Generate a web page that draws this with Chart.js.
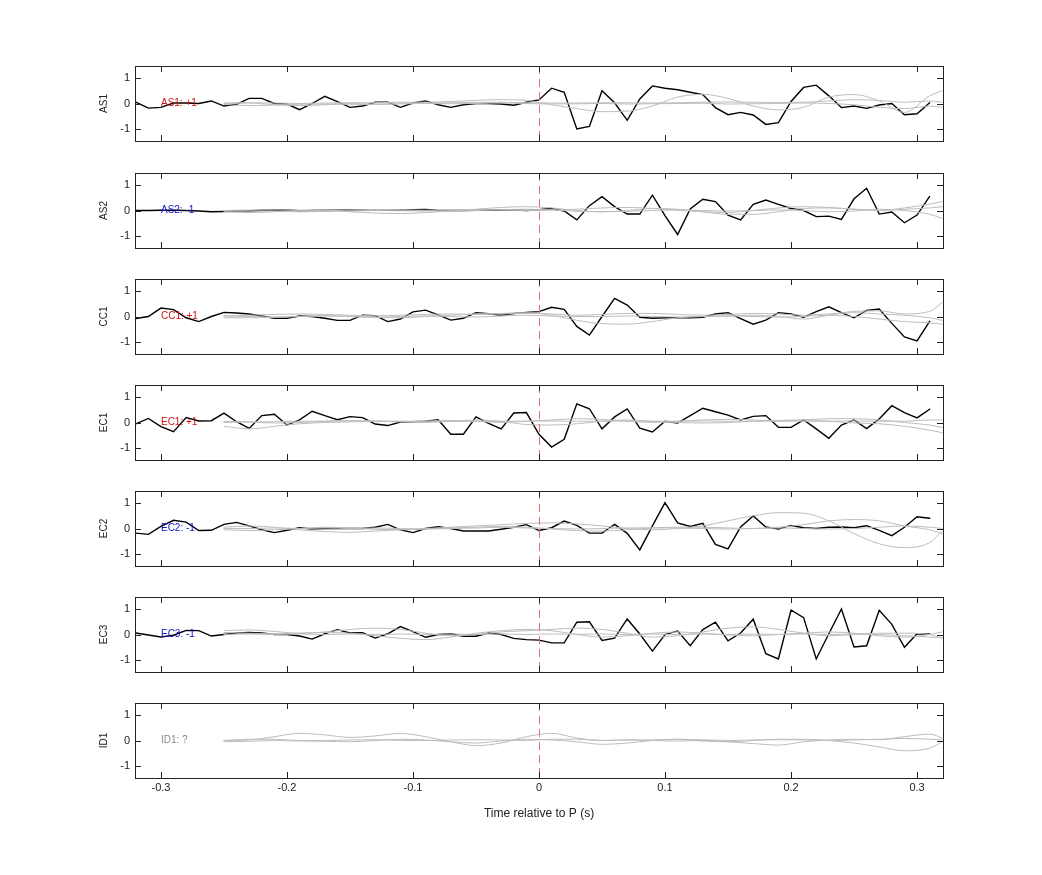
<!DOCTYPE html>
<html><head><meta charset="utf-8">
<script src="https://cdn.jsdelivr.net/npm/chart.js@4.4.1/dist/chart.umd.min.js"></script>
<style>body{margin:0;background:#fff;width:1042px;height:875px;position:relative;overflow:hidden}canvas{position:absolute}</style>
</head><body>
<script>
const stations = ["AS1","AS2","CC1","EC1","EC2","EC3","ID1"];
const polarity = ["AS1: +1","AS2: -1","CC1: +1","EC1: +1","EC2: -1","EC3: -1","ID1: ?"];
const polarityColors = ["#d01010","#1010d0","#d01010","#d01010","#1010d0","#1010d0","#888888"];
const xTickLabels = ["-0.3","-0.2","-0.1","0","0.1","0.2","0.3"];
const xTickValues = [-0.3,-0.2,-0.1,0,0.1,0.2,0.3];
const yTickValues = [-1,0,1];
// black traces: time -0.32 .. 0.31 step 0.01
const blackStart = -0.32, blackStep = 0.01;
const AS1 = [0.05,-0.18,-0.15,0.02,0.02,0,0.1,-0.1,-0.03,0.2,0.2,0,-0.02,-0.24,0,0.28,0.07,-0.15,-0.1,0.05,0.05,-0.15,0.02,0.1,-0.05,-0.15,-0.05,0,0,-0.02,-0.07,0.05,0.14,
 0.6,0.44,-1.0,-0.9,0.5,0.03,-0.66,0.18,0.69,0.6,0.54,0.44,0.35,-0.16,-0.44,-0.35,-0.45,-0.82,-0.75,0.08,0.63,0.72,0.3,-0.16,-0.1,-0.19,-0.06,0,-0.44,-0.4,0.03];
const AS2 = [0,0,0.01,0.01,0,-0.02,-0.05,-0.04,-0.02,-0.02,0.01,0.03,0.02,-0.01,0,0.01,0.01,0.02,0.02,0.01,0.01,0.02,0.03,0.04,0,0,0,0.01,0.01,0.02,0.02,0,0.03,
 0.08,-0.02,-0.37,0.19,0.54,0.15,-0.14,-0.14,0.6,-0.2,-0.94,0.06,0.44,0.35,-0.18,-0.37,0.24,0.41,0.24,0.08,0,-0.24,-0.22,-0.35,0.46,0.87,-0.14,-0.06,-0.48,-0.18,0.55];
const CC1 = [-0.08,0,0.33,0.27,-0.05,-0.2,0,0.16,0.14,0.1,0.02,-0.07,-0.07,0.02,0,-0.07,-0.15,-0.15,0.05,0.03,-0.2,-0.1,0.18,0.25,0.06,-0.14,-0.07,0.15,0.11,0.05,0.12,0.16,0.19,
 0.36,0.28,-0.39,-0.73,0,0.71,0.45,-0.03,-0.07,-0.05,-0.05,-0.05,-0.03,0.1,0.15,-0.08,-0.3,-0.14,0.15,0.1,-0.03,0.19,0.38,0.15,-0.05,0.24,0.29,-0.27,-0.8,-0.96,-0.19];
const EC1 = [-0.05,0.16,-0.16,-0.36,0.19,0.06,0.07,0.37,0.03,-0.23,0.27,0.32,-0.1,0.1,0.44,0.27,0.11,0.23,0.19,-0.06,-0.12,0.02,0.03,0.05,0.11,-0.46,-0.46,0.22,-0.03,-0.25,0.37,0.39,-0.46,
 -0.96,-0.66,0.73,0.54,-0.25,0.22,0.53,-0.22,-0.37,0.05,-0.02,0.27,0.56,0.42,0.29,0.1,0.24,0.27,-0.19,-0.19,0.1,-0.25,-0.62,-0.1,0.1,-0.24,0.14,0.66,0.39,0.18,0.52];
const EC2 = [-0.18,-0.23,0.08,0.32,0.25,-0.08,-0.07,0.16,0.24,0.1,-0.05,-0.16,-0.07,0.03,-0.02,0,0,0,0,0.05,0.16,-0.05,-0.16,0,0.07,0,-0.1,-0.1,-0.1,-0.03,0.05,0.15,-0.08,
 0.03,0.29,0.12,-0.18,-0.18,0.16,-0.19,-0.84,0.1,1.01,0.22,0.08,0.2,-0.62,-0.8,0.06,0.49,0.06,-0.02,0.12,0.03,0,0.05,0.06,0.03,0.11,-0.07,-0.28,0.05,0.46,0.4];
const EC3 = [0.06,-0.02,-0.1,-0.03,0.16,0.15,-0.06,0,0.06,0.08,0.06,0,0,-0.06,-0.18,0.03,0.19,0.06,0.07,-0.14,0.03,0.31,0.11,-0.11,0,0.03,-0.07,-0.07,0.06,0,-0.15,-0.2,-0.22,
 -0.33,-0.33,0.48,0.5,-0.23,-0.14,0.61,0.02,-0.65,0,0.14,-0.44,0.19,0.48,-0.25,0.06,0.6,-0.75,-0.96,0.96,0.66,-0.96,0.03,1.0,-0.49,-0.44,0.95,0.4,-0.5,0.03,0.02];
const blackSeries = [AS1,AS2,CC1,EC1,EC2,EC3,null];
// gray synthetic traces: time -0.25 .. 0.31 step 0.02, then 0.32
const grayStart = -0.25, grayStep = 0.02;
const grayAS1 = [
 [0,0.02,-0.05,-0.08,-0.05,0,0.03,0.05,0.05,0.08,0.12,0.15,0.12,-0.05,-0.2,-0.32,-0.3,-0.1,0.25,0.36,0.2,-0.1,-0.25,-0.15,0.25,0.35,0.1,-0.35,0.3,0.5],
 [0.02,0.03,0.02,0,0.02,0.03,0.02,0.01,0.02,0.03,0.04,0.05,0.03,0.02,0.02,0.03,0.03,0.02,0.03,0.05,0.06,0.05,0.04,0.05,0.1,0.15,0.12,0.05,0.1,0.05],
 [-0.04,-0.08,-0.06,-0.03,-0.02,-0.03,-0.04,-0.02,0,-0.01,0,0.02,0,-0.02,-0.01,0,-0.02,-0.01,0,0.01,-0.02,-0.01,0,0.02,0,-0.05,-0.15,-0.2,-0.1,-0.15]];
const grayAS2 = [
 [-0.05,-0.08,-0.05,0,0.02,-0.05,-0.1,-0.12,-0.08,-0.02,0.05,0.12,0.15,0.1,0,-0.05,0,0.08,0.05,-0.05,-0.15,-0.15,-0.05,0.08,0.1,0.05,0,0.1,0.25,0.35],
 [0,0.02,0.03,0.01,0,0.02,0.04,0.03,0.01,0.02,0.03,0.02,0,0.02,0.05,0.1,0.12,0.08,0.02,-0.05,-0.08,0,0.1,0.15,0.12,0.05,0,0.05,0.1,0.15],
 [-0.02,-0.02,-0.03,-0.05,-0.04,-0.02,0,-0.01,-0.02,-0.01,0,0.03,0.05,0.02,-0.03,-0.05,-0.03,0,0.02,0,-0.02,0,0.02,0,-0.05,-0.02,0.05,0,-0.15,-0.3]];
const grayCC1 = [
 [-0.05,-0.05,-0.03,0,0.02,0,-0.03,-0.05,0,0.05,0.1,0.12,0.15,0.05,-0.15,-0.28,-0.3,-0.2,-0.05,0,0.02,0.05,0,-0.1,0.05,0.2,0.22,0.1,0.2,0.55],
 [0.02,0.05,0.08,0.1,0.08,0.05,0.03,0.05,0.08,0.1,0.08,0.1,0.12,0.1,0.05,0.08,0.12,0.12,0.08,0.05,0.08,0.12,0.1,0.05,0.1,0.15,0.1,0.05,-0.05,-0.15],
 [0.02,0,-0.02,0,0.03,0,-0.03,0,0.02,0,-0.02,0.02,0.05,0.02,0,0,0.02,0,-0.02,0,0.02,0,-0.02,0,0.05,0,-0.1,-0.2,-0.25,-0.3]];
const grayEC1 = [
 [-0.15,-0.25,-0.15,-0.05,0,0.02,0.05,0.03,0,0.05,0.1,0.05,-0.08,-0.1,-0.05,0.05,0.1,0.05,0,-0.02,0,0.05,0.08,0.1,0.05,-0.02,-0.05,-0.15,-0.3,-0.4],
 [0.05,0.02,-0.02,0,0.05,0.08,0.05,0.03,0.05,0.08,0.05,0,0.05,0.1,0.15,0.12,0.05,0,0.05,0.1,0.12,0.1,0.05,0.1,0.15,0.15,0.1,0,-0.1,-0.2],
 [0,0.02,0.03,0.05,0.05,0.06,0.06,0.05,0.05,0.05,0.04,0.05,0.05,0.06,0.05,0.05,0.06,0.05,0.05,0.06,0.05,0.05,0.06,0.05,0.05,0.06,0.05,0.05,0.1,0.1]];
const grayEC2 = [
 [0.05,0.1,0.05,-0.05,-0.12,-0.15,-0.1,-0.05,0,0.05,0.1,0.15,0.2,0.22,0.18,0.1,0,-0.05,0,0.1,0.3,0.5,0.62,0.6,0.3,-0.2,-0.6,-0.75,-0.55,-0.1],
 [-0.05,-0.08,-0.05,0,0.05,0.02,-0.03,-0.05,-0.02,0.02,0.05,0.08,0.05,-0.02,-0.08,-0.1,-0.05,0.02,0.05,0.05,0.02,0,0.05,0.15,0.3,0.35,0.3,0.1,-0.05,-0.2],
 [0,0,0.02,0,-0.02,0,0.02,0,-0.02,0,0.02,0.05,0.02,0,-0.02,0,0.02,0.03,0.02,0,-0.02,0,0.02,0,-0.02,0,0.05,0.1,0.05,0]];
const grayEC3 = [
 [0.15,0.18,0.12,0.05,0.1,0.2,0.25,0.2,0.05,-0.05,0,0.1,0.15,0.2,0.25,0.2,0.05,-0.1,-0.05,0.1,0.25,0.3,0.2,0.05,-0.05,0,0.05,0.05,0,-0.15],
 [0.08,0.05,0.03,0.05,0.08,0.05,-0.05,-0.15,-0.2,-0.1,0.05,0.15,0.2,0.15,0,-0.1,-0.05,0.05,0.1,0.05,-0.02,-0.05,0,0.05,0.1,0.05,-0.05,-0.1,0,0.1],
 [0,0.02,0,0.02,0,0.02,0,0.02,0,0.02,0,0.02,0,0.02,0.01,0.02,0,0.02,0,0.02,0,0.02,0,0.02,0,0.02,0,-0.05,-0.1,-0.12]];
const grayID1 = [
 [0,0.02,0.15,0.28,0.22,0.12,0.18,0.28,0.15,-0.05,-0.2,-0.1,0.15,0.28,0.1,0,0.02,0,-0.02,0,-0.05,-0.12,-0.18,-0.05,0.02,0.05,0.03,0.15,0.25,0.1],
 [-0.05,-0.03,0,-0.02,-0.03,-0.05,0,0.05,0.02,-0.05,-0.1,-0.02,0.05,0.02,-0.05,-0.15,-0.1,0,0.05,-0.02,-0.05,0,0.05,0.05,0,-0.1,-0.25,-0.4,-0.3,-0.05],
 [0,0.05,0.05,0,0,0.02,0.03,0,0,0.02,0.03,0.02,0,0.05,0.05,0,0.02,0.02,0.05,0.03,0,0.02,0.03,0.02,0,0.02,0.05,0.08,0.05,0.02]];
const graySeries = [grayAS1,grayAS2,grayCC1,grayEC1,grayEC2,grayEC3,grayID1];

const panelTops = [66,173,279,385,491,597,703];
const PH = 75, PADT = 8, PADB = 8, CL = 80, PL = 55, PR = 17, CW = 880;

function toPts(arr, start, step){
  return arr.map((v,i)=>({x: +(i < 29 || step===0.01 ? start+i*step : 0.32).toFixed(3), y:v}));
}
function grayPts(arr){
  return arr.map((v,i)=>({x: i<29 ? +(grayStart+i*grayStep).toFixed(3) : 0.32, y:v}));
}

const framePlugin = {
  id:'frame',
  afterDatasetsDraw(chart, args, o){
    const {ctx, chartArea:a, scales:{x,y}} = chart;
    ctx.save();
    // dashed zero line
    ctx.strokeStyle = '#e07070'; ctx.lineWidth = 1; ctx.setLineDash([8,5]);
    const x0 = Math.round(x.getPixelForValue(0))+0.5;
    ctx.beginPath(); ctx.moveTo(x0,a.top); ctx.lineTo(x0,a.bottom); ctx.stroke();
    ctx.setLineDash([]);
    // frame
    ctx.strokeStyle = '#222'; ctx.lineWidth = 1;
    ctx.strokeRect(Math.round(a.left)+0.5, Math.round(a.top)+0.5, Math.round(a.right-a.left), Math.round(a.bottom-a.top));
    // ticks
    ctx.beginPath();
    xTickValues.forEach(v=>{const p=Math.round(x.getPixelForValue(v))+0.5;
      ctx.moveTo(p,a.top); ctx.lineTo(p,a.top+6); ctx.moveTo(p,a.bottom); ctx.lineTo(p,a.bottom-6);});
    yTickValues.forEach(v=>{const p=Math.round(y.getPixelForValue(v))+0.5;
      ctx.moveTo(a.left,p); ctx.lineTo(a.left+6,p); ctx.moveTo(a.right,p); ctx.lineTo(a.right-6,p);});
    ctx.stroke();
    // y tick labels
    ctx.fillStyle = '#222'; ctx.font = '11px "Liberation Sans", Arial, sans-serif';
    ctx.textAlign = 'right'; ctx.textBaseline = 'middle';
    yTickValues.forEach(v=>ctx.fillText(String(v), a.left-5, y.getPixelForValue(v)));
    // y title
    ctx.save(); ctx.translate(a.left-31, (a.top+a.bottom)/2); ctx.rotate(-Math.PI/2);
    ctx.textAlign='center'; ctx.font='10px "Liberation Sans", Arial, sans-serif';
    ctx.fillText(o.title, 0, 0); ctx.restore();
    // polarity label
    ctx.fillStyle = o.color; ctx.textAlign='left'; ctx.font='10px "Liberation Sans", Arial, sans-serif';
    ctx.fillText(o.label, x.getPixelForValue(-0.3), y.getPixelForValue(0));
    if (o.last){
      ctx.fillStyle='#222'; ctx.textAlign='center'; ctx.textBaseline='top'; ctx.font='11px "Liberation Sans", Arial, sans-serif';
      xTickValues.forEach((v,i)=>ctx.fillText(xTickLabels[i], x.getPixelForValue(v), a.bottom+4));
      ctx.font='12px "Liberation Sans", Arial, sans-serif';
      ctx.fillText('Time relative to P (s)', (a.left+a.right)/2, a.bottom+30);
    }
    ctx.restore();
  }
};

stations.forEach((st, k)=>{
  const last = k===stations.length-1;
  const c = document.createElement('canvas');
  const h = PADT + PH + (last?60:PADB);
  c.width = CW; c.height = h;
  c.style.left = CL+'px'; c.style.top = (panelTops[k]-PADT)+'px';
  document.body.appendChild(c);
  const ds = graySeries[k].map(g=>({data:grayPts(g), borderColor:'#bdbdbd', borderWidth:1, pointRadius:0, tension:0.4, cubicInterpolationMode:'monotone'}));
  if (blackSeries[k]) ds.push({data: blackSeries[k].map((v,i)=>({x:+(blackStart+i*blackStep).toFixed(3), y:v})), borderColor:'#000', borderWidth:1.4, pointRadius:0, tension:0});
  new Chart(c, {
    type:'line',
    data:{datasets:ds},
    options:{
      responsive:false, animation:false, devicePixelRatio:1,
      layout:{padding:{left:PL,right:PR,top:PADT,bottom:last?60:PADB}},
      plugins:{legend:{display:false}, tooltip:{enabled:false},
        frame:{title:st, label:polarity[k], color:polarityColors[k], last}},
      scales:{
        x:{type:'linear', min:-0.3206, max:0.3206, display:false},
        y:{type:'linear', min:-1.47, max:1.47, display:false}
      },
      elements:{line:{borderCapStyle:'round'}}
    },
    plugins:[framePlugin]
  });
});
</script>
</body></html>
